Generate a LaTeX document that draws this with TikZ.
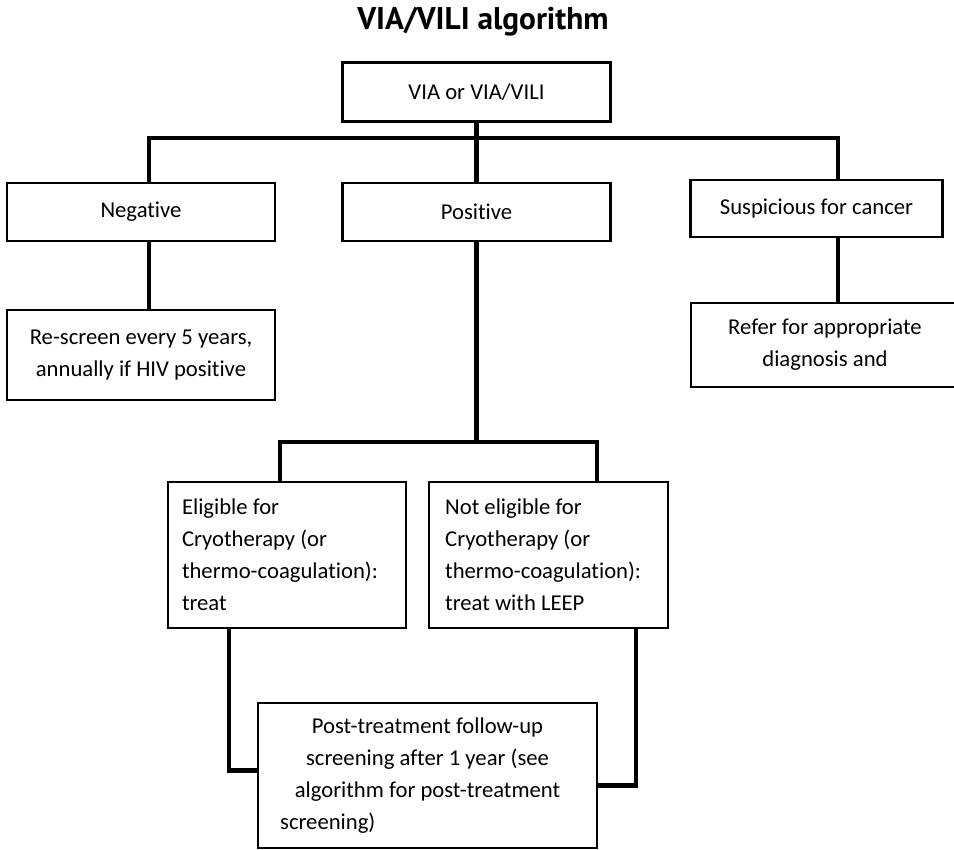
\documentclass[tikz,border=0pt]{standalone}
\usepackage{fontspec}
\setmainfont{Carlito}[Ligatures={NoCommon}]
\newfontfamily\titlefont{PT Sans}
\usetikzlibrary{calc}

\tikzset{
    box/.style 2 args={draw,line width=1.6pt,fill=white,inner sep=0pt,
        minimum width=#1*0.75pt,minimum height=#2*0.75pt,
        font=\fontsize{17}{24}\selectfont},
    link/.style={line width=3.6pt}
}

\begin{document}
\begin{tikzpicture}[x=0.75pt,y=-0.75pt]
    \useasboundingbox (0,0) rectangle (954,850);
    \node (title) at (483,22) {\titlefont\bfseries\fontsize{23.5}{28}\selectfont VIA/VILI algorithm};

    \node (root) at (476.5,92) [box={268}{59}] {VIA or VIA/VILI};
    \node (neg) at (141,212) [box={268}{58}] {Negative};
    \node (pos) at (476.5,212) [box={268}{58}] {Positive};
    \node (susp) at (816.5,208.5) [box={252}{57}] {Suspicious for cancer};
    \node (rescreen) at (141,355) [box={268}{90},align=center] {Re-screen every 5 years,\\annually if HIV positive};
    \node (refer) at (825,345) [box={268}{84},align=center] {Refer for appropriate\\diagnosis and};
    \node (elig) at (287,555) [box={238}{146},text width=157.5pt,align=flush left]
        {Eligible for\\Cryotherapy (or\\thermo-coagulation):\\treat};
    \node (nelig) at (548.5,555) [box={239}{146},text width=155pt,align=flush left]
        {Not eligible for\\Cryotherapy (or\\thermo-coagulation):\\treat with LEEP};
    \node (post) at (427.5,775.5) [box={339}{145},align=center]
        {Post-treatment follow-up\\screening after 1 year (see\\algorithm for post-treatment\\screening)\hspace*{8.8em}};

    \coordinate (top) at (476.5,138);
    \coordinate (split) at (476.5,442);
    \draw[link] (root.south) -- (pos.north);
    \draw[link] ($(neg.north)+(8,0)$) |- (top) -| ($(susp.north)+(21.5,0)$);
    \draw[link] ($(neg.south)+(8,0)$) -- ($(rescreen.north)+(8,0)$);
    \draw[link] ($(susp.south)+(21.5,0)$) -- ($(refer.north)+(13,0)$);
    \draw[link] (pos.south) -- (split);
    \draw[link] ($(elig.north)+(-7,0)$) |- (split) -| ($(nelig.north)+(48.5,0)$);
    \draw[link] ($(elig.south)+(-58,0)$) |- ($(post.west)+(0,-5)$);
    \draw[link] ($(nelig.south)+(87.5,0)$) |- ($(post.east)+(0,10)$);
\end{tikzpicture}
\end{document}
